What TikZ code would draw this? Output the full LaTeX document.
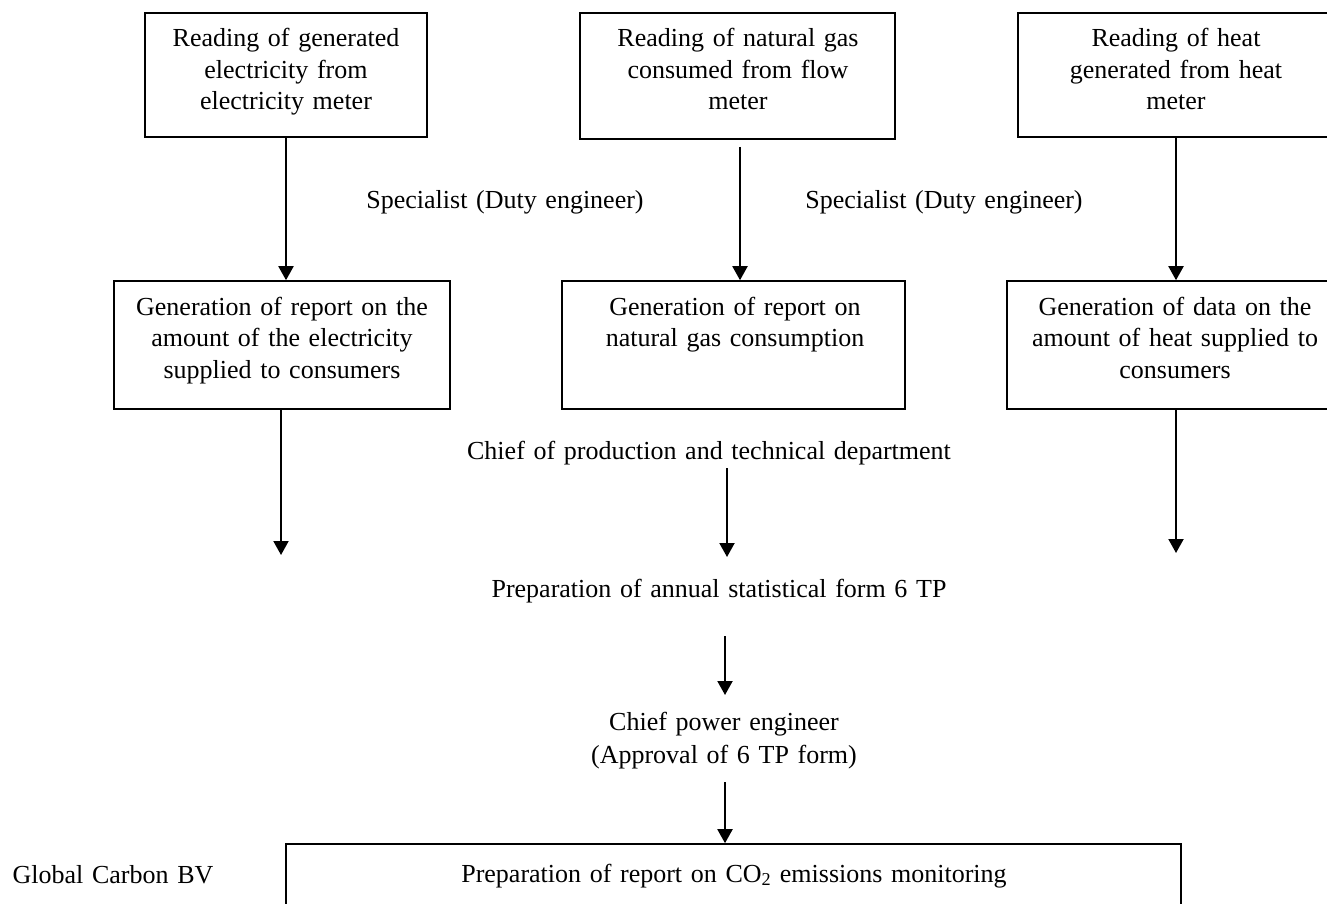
\documentclass[tikz,border=0pt]{standalone}
\usepackage{fontspec}
\setmainfont{Liberation Serif}
\usetikzlibrary{arrows.meta}
\begin{document}
\begin{tikzpicture}[x=1pt,y=-1pt,
  box/.style={draw,line width=1.6pt,inner sep=0pt},
  txt/.style={font=\fontsize{26}{31.5}\selectfont,inner sep=0pt,align=center,text width=#1,anchor=base},
  txt/.default=360pt,
  arr/.style={line width=2pt,-{Triangle[length=14pt,width=15pt]}}]
\useasboundingbox (0,0) rectangle (1327,904);
\clip (0,0) rectangle (1327,904);
\fill[white] (0,0) rectangle (1327,904);
% boxes
\node[box,minimum width=282pt,minimum height=124pt] (r1a) at (286,75) {};
\node[box,minimum width=315pt,minimum height=126pt] (r1b) at (737.5,76) {};
\node[box,minimum width=316pt,minimum height=124pt] (r1c) at (1176,75) {};
\node[box,minimum width=336pt,minimum height=128pt] (r2a) at (282,345) {};
\node[box,minimum width=343pt,minimum height=128pt] (r2b) at (733.5,345) {};
\node[box,minimum width=336pt,minimum height=128pt] (r2c) at (1175,345) {};
\node[box,minimum width=895pt,minimum height=86pt] (bot) at (733.5,887) {};
% box texts
\node[txt] (t1a) at (286,47) {Reading of generated\\electricity from\\electricity meter};
\node[txt] (t1b) at (738,47) {Reading of natural gas\\consumed from flow\\meter};
\node[txt] (t1c) at (1176,47) {Reading of heat\\generated from heat\\meter};
\node[txt] (t2a) at (282,315) {Generation of report on the\\amount of the electricity\\supplied to consumers};
\node[txt] (t2b) at (735,315) {Generation of report on\\natural gas consumption};
\node[txt] (t2c) at (1175,315) {Generation of data on the\\amount of heat supplied to\\consumers};
\node[txt=900pt] (tbot) at (734,882) {Preparation of report on CO\textsubscript{2} emissions monitoring};
% free texts
\node[txt] (spec1) at (505,208) {Specialist (Duty engineer)};
\node[txt] (spec2) at (944,208) {Specialist (Duty engineer)};
\node[txt=600pt] (chief) at (709,459) {Chief of production and technical department};
\node[txt=600pt] (prep) at (719,597) {Preparation of annual statistical form 6 TP};
\node[txt,font=\fontsize{26}{33}\selectfont] (cpe) at (724,730) {Chief power engineer\\(Approval of 6 TP form)};
\node[txt] (gcbv) at (113,883) {Global Carbon BV};
% coordinates
\coordinate (a2s) at (740,147);
\coordinate (l3e) at (281,555);
\coordinate (r3e) at (1176,553);
\coordinate (m1s) at (727,468);
\coordinate (m1e) at (727,557);
\coordinate (m2s) at (725,636);
\coordinate (m2e) at (725,695);
\coordinate (m3s) at (725,782);
% arrows
\draw[arr] (r1a.south) -- (r1a.south |- r2a.north);
\draw[arr] (a2s) -- (a2s |- r2b.north);
\draw[arr] (r1c.south) -- (r1c.south |- r2c.north);
\draw[arr] (r2a.south -| l3e) -- (l3e);
\draw[arr] (r2c.south -| r3e) -- (r3e);
\draw[arr] (m1s) -- (m1e);
\draw[arr] (m2s) -- (m2e);
\draw[arr] (m3s) -- (m3s |- bot.north);
\end{tikzpicture}
\end{document}
